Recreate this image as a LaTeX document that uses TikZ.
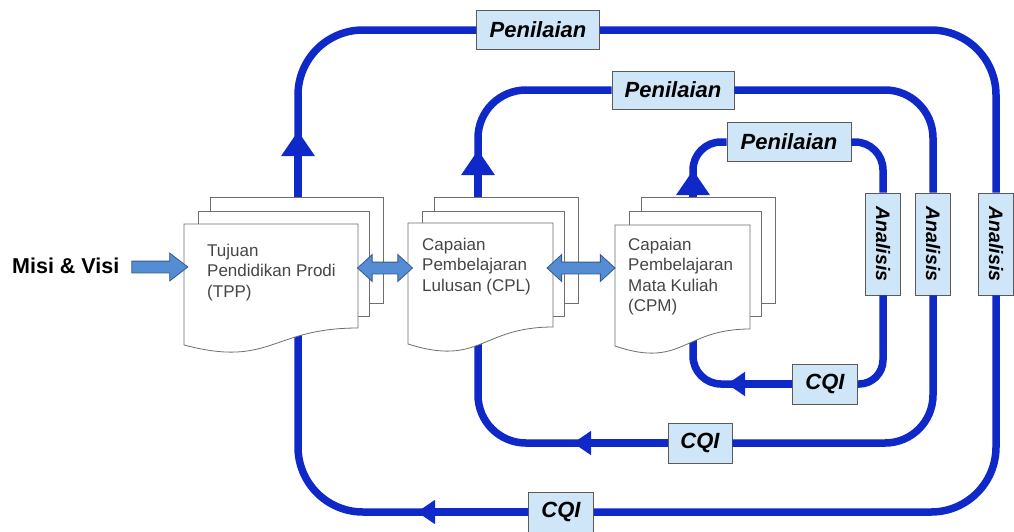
\documentclass[tikz,border=0pt]{standalone}
\usepackage{fontspec}
\setmainfont{Liberation Sans}
\usepackage{graphicx}
\usetikzlibrary{arrows.meta,shapes.arrows,positioning}

\definecolor{loopblue}{RGB}{15,40,200}
\definecolor{boxfill}{RGB}{206,230,248}
\definecolor{boxline}{RGB}{90,90,90}
\definecolor{arrowfill}{RGB}{84,141,212}
\definecolor{arrowline}{RGB}{52,90,140}
\definecolor{pageline}{RGB}{110,110,110}
\definecolor{doctext}{RGB}{70,70,70}

\begin{document}
\begin{tikzpicture}[x=1pt,y=-1pt,
    loop line/.style={draw=loopblue,line width=7.5pt},
    up tip/.style={-{Triangle[length=25pt,width=32pt]}},
    back tip/.style={-{Triangle[length=18pt,width=23pt]}},
    markbox/.style={draw=boxline,fill=boxfill,line width=0.8pt,inner sep=0pt,font=\fontsize{22}{22}\selectfont\bfseries\itshape},
    side markbox/.style={markbox,minimum width=35pt,minimum height=102pt,font=\fontsize{19.5}{19.5}\selectfont\bfseries\itshape},
    sheet/.style={draw=pageline,fill=white,line width=0.8pt},
    doc text/.style={anchor=north west,inner sep=0pt,align=left,text=doctext,font=\fontsize{17}{20.5}\selectfont},
    block/.style={draw=arrowline,fill=arrowfill,line width=0.8pt,inner xsep=0pt,inner ysep=5.5pt}]

    \useasboundingbox (0,0) rectangle (1014,531);

    \node[markbox,minimum width=123pt,minimum height=39pt] (pen1) at (538,30) {Penilaian};
    \node[markbox,minimum width=122pt,minimum height=38pt] (pen2) at (673,90) {Penilaian};
    \node[markbox,minimum width=124pt,minimum height=39pt] (pen3) at (789,142) {Penilaian};
    \node[side markbox] (ana1) at (996,244) {\rotatebox{-90}{Analisis}};
    \node[side markbox] (ana2) at (933,244) {\rotatebox{-90}{Analisis}};
    \node[side markbox] (ana3) at (883,244) {\rotatebox{-90}{Analisis}};
    \node[markbox,minimum width=65pt,minimum height=40pt] (cqi1) at (561,512) {CQI};
    \node[markbox,minimum width=64pt,minimum height=40pt] (cqi2) at (700,443) {CQI};
    \node[markbox,minimum width=65pt,minimum height=40pt] (cqi3) at (825,384) {CQI};

    \coordinate (o-nw) at (298,30);
    \coordinate (o-ne) at (996,30);
    \coordinate (o-se) at (996,512);
    \coordinate (o-sw) at (298,512);
    \coordinate (o-mid) at (298,300);
    \coordinate (o-up) at (298,131);
    \coordinate (o-back) at (417,512);

    \coordinate (m-nw) at (478,90);
    \coordinate (m-ne) at (933,90);
    \coordinate (m-se) at (933,443);
    \coordinate (m-sw) at (478,443);
    \coordinate (m-mid) at (478,300);
    \coordinate (m-up) at (478,150);
    \coordinate (m-back) at (573,443);

    \coordinate (i-nw) at (693,142);
    \coordinate (i-ne) at (883,142);
    \coordinate (i-se) at (883,384);
    \coordinate (i-sw) at (693,384);
    \coordinate (i-mid) at (693,300);
    \coordinate (i-up) at (693,170);
    \coordinate (i-back) at (727,384);

    \draw[loop line,rounded corners=65pt] (pen1.east) -- (o-ne) -- (ana1.north);
    \draw[loop line,rounded corners=65pt] (ana1.south) -- (o-se) -- (cqi1.east);
    \draw[loop line,rounded corners=65pt] (cqi1.west) -- (o-sw) -- (o-nw) -- (pen1.west);
    \draw[loop line,back tip] (cqi1.west) -- (o-back);
    \draw[loop line,up tip] (o-mid) -- (o-up);

    \draw[loop line,rounded corners=48pt] (pen2.east) -- (m-ne) -- (ana2.north);
    \draw[loop line,rounded corners=48pt] (ana2.south) -- (m-se) -- (cqi2.east);
    \draw[loop line,rounded corners=48pt] (cqi2.west) -- (m-sw) -- (m-nw) -- (pen2.west);
    \draw[loop line,back tip] (cqi2.west) -- (m-back);
    \draw[loop line,up tip] (m-mid) -- (m-up);

    \draw[loop line,rounded corners=28pt] (pen3.east) -- (i-ne) -- (ana3.north);
    \draw[loop line,rounded corners=24pt] (ana3.south) -- (i-se) -- (cqi3.east);
    \draw[loop line,rounded corners=28pt] (cqi3.west) -- (i-sw) -- (i-nw) -- (pen3.west);
    \draw[loop line,back tip] (cqi3.west) -- (i-back);
    \draw[loop line,up tip] (i-mid) -- (i-up);

    \foreach \l/\r/\t in {184/358/224,408/553/223,615/750/225} {
        \draw[sheet] (\l+26,197) rectangle (\r+25,303);
        \draw[sheet] (\l+14,211) rectangle (\r+11,316);
        \draw[sheet] (\l,\t) -- (\r,\t) -- (\r,\t+104)
            .. controls ({(\l+\r)/2},\t+104) and ({(\l+\r)/2},\t+144) .. (\l,\t+121) -- cycle;
    }

    \node[doc text] (tpp) at (207,243.5) {Tujuan\\Pendidikan Prodi\\(TPP)};
    \node[doc text] (cpl) at (422,237.5) {Capaian\\Pembelajaran\\Lulusan (CPL)};
    \node[doc text] (cpm) at (628,237.5) {Capaian\\Pembelajaran\\Mata Kuliah\\(CPM)};

    \node[font=\fontsize{21.5}{21.5}\selectfont\bfseries,inner sep=0pt,anchor=west] (misi) at (12,266) {Misi \& Visi};

    \node[block,single arrow,single arrow head extend=8pt,single arrow tip angle=75,minimum height=56pt] (misi-in) at (156,267) {};
    \node[block,double arrow,double arrow head extend=7.5pt,double arrow tip angle=85,minimum height=55pt] (tpp-cpl) at (385,268) {};
    \node[block,double arrow,double arrow head extend=7.5pt,double arrow tip angle=85,minimum height=68pt] (cpl-cpm) at (581,268) {};
\end{tikzpicture}
\end{document}
